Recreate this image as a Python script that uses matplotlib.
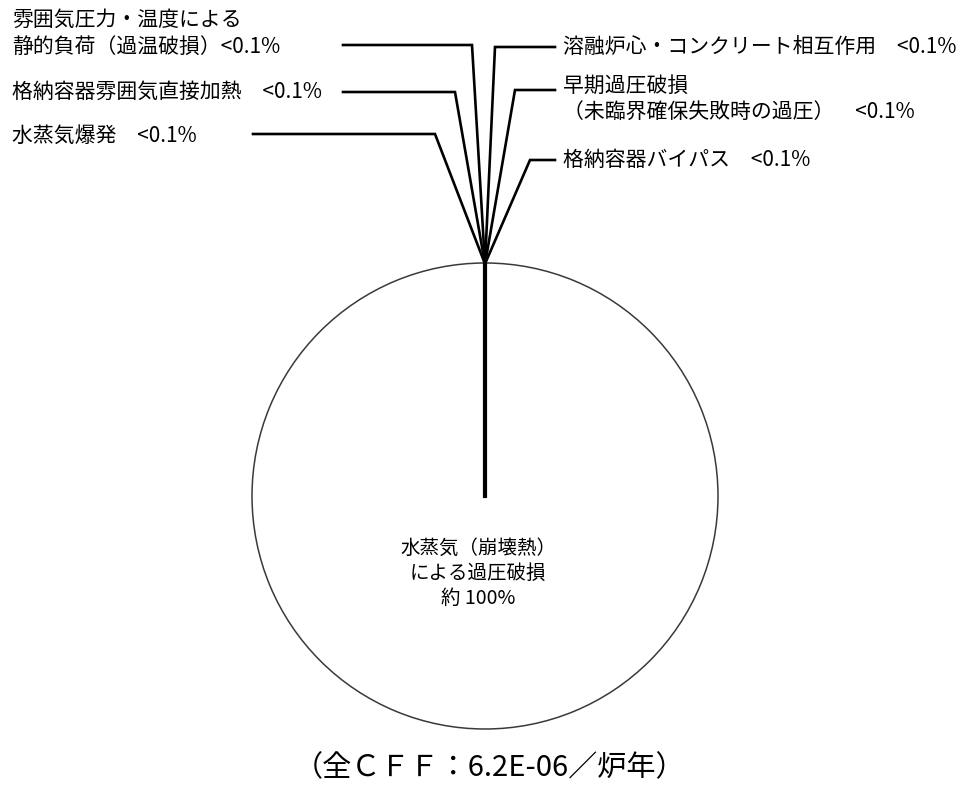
import numpy as np
import matplotlib
matplotlib.use("Agg")
import matplotlib.pyplot as plt

plt.rcParams['font.family'] = ['Noto Sans CJK JP', 'DejaVu Sans']

# categories, clockwise from the top of the pie
categories = [
    "溶融炉心・コンクリート相互作用",
    "早期過圧破損\n（未臨界確保失敗時の過圧）",
    "格納容器バイパス",
    "水蒸気（崩壊熱）\nによる過圧破損",
    "水蒸気爆発",
    "格納容器雰囲気直接加熱",
    "雰囲気圧力・温度による\n静的負荷（過温破損）",
]
shares = [0.01, 0.01, 0.01, 99.94, 0.01, 0.01, 0.01]
share_labels = ["<0.1%", "<0.1%", "<0.1%", "約 100%", "<0.1%", "<0.1%", "<0.1%"]
caption = "（全ＣＦＦ：6.2E-06／炉年）"

# layout in pixels of the 975x785 image
W, H = 975, 785
CX, CY, R = 485, 496, 233
FS = 15


def px(x, y):
    return (x - CX) / R, (CY - y) / R


# per small slice: (elbow x, line y, line end x, text x, text y, sep)
leaders = {
    0: (495, 47, 555, 563, 47, "　"),
    1: (515, 90, 555, 563, 90, "　"),
    2: (530, 160, 555, 563, 160, "　"),
    4: (435, 134, 253, 12, 136, "　"),
    5: (455, 92, 343, 12, 92, "　"),
    6: (472, 45, 343, 12, 45, ""),
}


def main():
    fig = plt.figure(figsize=(W / 100, H / 100), dpi=100)
    ax = fig.add_axes([0, 0, 1, 1])

    wedges, _ = ax.pie(shares, startangle=90, counterclock=False, radius=1,
                       center=(0, 0), frame=True,
                       wedgeprops=dict(facecolor="white", edgecolor="black",
                                       linewidth=1.6))
    ax.set_xlim(px(0, 0)[0], px(W, 0)[0])
    ax.set_ylim(px(0, H)[1], px(0, 0)[1])
    ax.set_axis_off()

    big = int(np.argmax(shares))
    wedges[big].set_edgecolor("#3a3a3a")
    wedges[big].set_linewidth(1.1)
    wedges[big].set_zorder(1)
    # the big slice's radial edge shown as the heavy line to the centre
    ax.plot([0, 0], [0, 1], color="black", lw=3.0, zorder=3)

    for i, w in enumerate(wedges):
        if i == big:
            continue
        w.set_zorder(2)
        ang = np.deg2rad((w.theta1 + w.theta2) / 2)
        sx, sy = np.cos(ang), np.sin(ang)
        ex, ly, lx, tx, ty, sep = leaders[i]
        p1 = px(ex, ly)
        p2 = px(lx, ly)
        ax.plot([sx, p1[0], p2[0]], [sy, p1[1], p2[1]], color="black",
                lw=1.9, solid_joinstyle="miter", zorder=3)
        name = categories[i]
        if "\n" in name:
            first, second = name.split("\n")
            if i == 1:
                txt = first + "\n" + second + sep + share_labels[i]
                t = px(tx, ty - 15)
                ax.text(t[0], t[1], txt, ha="left", va="top", fontsize=FS,
                        linespacing=1.3)
            else:
                txt = first + "\n" + second + sep + share_labels[i]
                t = px(tx, ty + 13)
                ax.text(t[0], t[1], txt, ha="left", va="bottom", fontsize=FS,
                        linespacing=1.3)
        else:
            t = px(tx, ty)
            ax.text(t[0], t[1], name + sep + share_labels[i], ha="left",
                    va="center", fontsize=FS)

    t = px(478, 573)
    ax.text(t[0], t[1], categories[big] + "\n" + share_labels[big],
            ha="center", va="center", fontsize=14, linespacing=1.25)

    t = px(490, 768)
    ax.text(t[0], t[1], caption, ha="center", va="center", fontsize=21)

    fig.savefig("out.png", dpi=100, facecolor="white")
    plt.close(fig)


if __name__ == '__main__':
    main()
